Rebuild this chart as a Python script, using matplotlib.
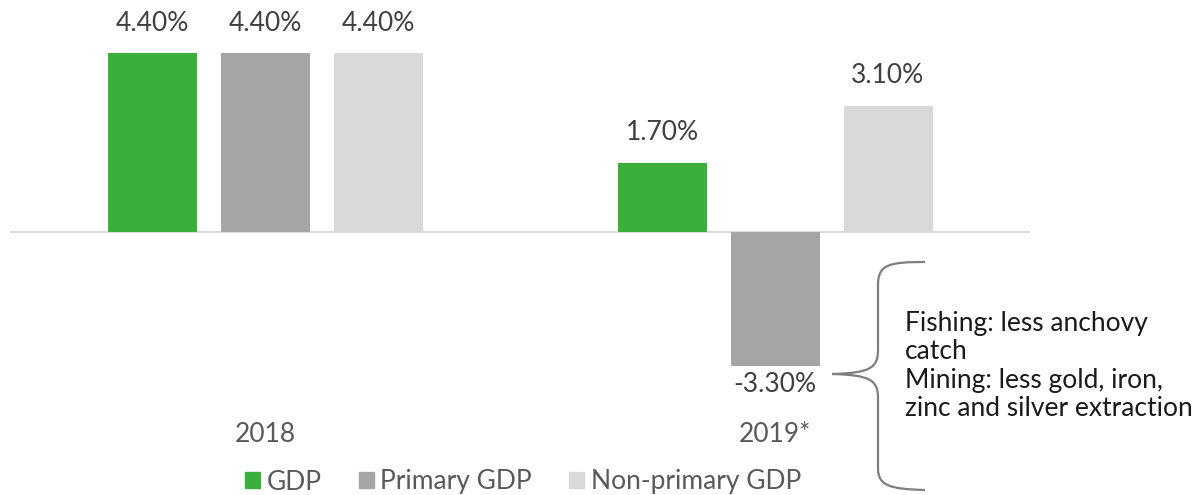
import matplotlib
matplotlib.use("Agg")
import matplotlib.pyplot as plt
import numpy as np
from matplotlib.path import Path
from matplotlib.patches import PathPatch, Patch

plt.rcParams['font.family'] = ['Lato', 'DejaVu Sans']

categories = ["2018", "2019*"]
series_names = ["GDP", "Primary GDP", "Non-primary GDP"]
gdp = [4.4, 1.7]
primary_gdp = [4.4, -3.3]
non_primary_gdp = [4.4, 3.1]
colors = ["#3BAF3B", "#A5A5A5", "#D9D9D9"]
note_text = "Fishing: less anchovy\ncatch\nMining: less gold, iron,\nzinc and silver extraction"

FS = 19
W, H = 1203, 495
fig = plt.figure(figsize=(W / 100, H / 100), dpi=100)
ax = fig.add_axes([10 / W, 75 / H, 1020 / W, 420 / H])

x = np.arange(len(categories))
width = 89 / 510
offset = 113 / 510
data = [gdp, primary_gdp, non_primary_gdp]
for i, (vals, col, name) in enumerate(zip(data, colors, series_names)):
    bars = ax.bar(x + (i - 1) * offset, vals, width, color=col, label=name, zorder=2)
    for b, v in zip(bars, vals):
        dy = 21.5 if v >= 0 else -13
        ax.annotate(f"{v:.2f}%", (b.get_x() + b.get_width() / 2, v),
                    xytext=(0, dy), textcoords="offset points",
                    ha="center", va="center", fontsize=FS, color="#404040")

ax.axhline(0, color="#D9D9D9", lw=1.5, zorder=1)
ax.set_xlim(-0.5, 1.5)
ax.set_ylim(-(420 - 232) / 40.7, 232 / 40.7)
ax.set_xticks(x)
ax.set_xticklabels(categories, fontsize=FS, color="#595959")
ax.tick_params(axis="x", length=0, pad=1.5)
ax.set_yticks([])
for s in ax.spines.values():
    s.set_visible(False)

handles = [Patch(color=c, label=n) for c, n in zip(colors, series_names)]
fig.legend(handles=handles, loc="center", bbox_to_anchor=(523 / W, 1 - 482 / H),
           ncol=3, frameon=False, fontsize=FS, labelcolor="#595959",
           handlelength=0.57, handleheight=0.57, handletextpad=0.25, columnspacing=1.4)

# brace
def P(px, py):
    return (px / W, 1 - py / H)

verts = [P(925, 262), P(890, 262), P(878, 264), P(878, 285),
         P(878, 350),
         P(878, 368), P(870, 373), P(832, 374),
         P(870, 375), P(878, 380), P(878, 398),
         P(878, 468),
         P(878, 486), P(890, 489), P(925, 490)]
codes = [Path.MOVETO, Path.CURVE4, Path.CURVE4, Path.CURVE4,
         Path.LINETO,
         Path.CURVE4, Path.CURVE4, Path.CURVE4,
         Path.CURVE4, Path.CURVE4, Path.CURVE4,
         Path.LINETO,
         Path.CURVE4, Path.CURVE4, Path.CURVE4]
fig.patches.append(PathPatch(Path(verts, codes), transform=fig.transFigure,
                             fill=False, edgecolor="#7F7F7F", lw=1.6))

fig.text(905 / W, 1 - 366 / H, note_text, ha="left", va="center",
         fontsize=FS, color="#1A1A1A", linespacing=1.16)

fig.savefig("out.png", dpi=100)
